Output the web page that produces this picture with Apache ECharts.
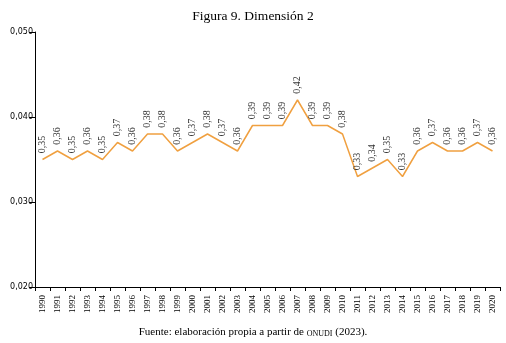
<!DOCTYPE html>
<html>
<head>
<meta charset="utf-8">
<script src="https://cdn.jsdelivr.net/npm/echarts@6/dist/echarts.min.js"></script>
<style>html,body{margin:0;padding:0;background:#fff}#c{width:506px;height:343px}</style>
</head>
<body>
<div id="c"></div>
<script>
const years = ['1990','1991','1992','1993','1994','1995','1996','1997','1998','1999','2000','2001','2002','2003','2004','2005','2006','2007','2008','2009','2010','2011','2012','2013','2014','2015','2016','2017','2018','2019','2020'];
const values = [0.035,0.036,0.035,0.036,0.035,0.037,0.036,0.038,0.038,0.036,0.037,0.038,0.037,0.036,0.039,0.039,0.039,0.042,0.039,0.039,0.038,0.033,0.034,0.035,0.033,0.036,0.037,0.036,0.036,0.037,0.036];
const pointLabels = ['0,35','0,36','0,35','0,36','0,35','0,37','0,36','0,38','0,38','0,36','0,37','0,38','0,37','0,36','0,39','0,39','0,39','0,42','0,39','0,39','0,38','0,33','0,34','0,35','0,33','0,36','0,37','0,36','0,36','0,37','0,36'];
const yTicks = {min:0.02, max:0.05, interval:0.01};

const chart = echarts.init(document.getElementById('c'), null, {renderer:'canvas'});
chart.setOption({
  animation:false,
  title:{text:'Figura 9. Dimensión 2', left:'center', top:4,
    textStyle:{fontFamily:'Liberation Serif', fontSize:13.5, fontWeight:'normal', color:'#000'}},
  grid:{left:35, right:6, top:32, bottom:56, containLabel:false},
  xAxis:{type:'category', data:years, boundaryGap:true,
    axisLine:{lineStyle:{color:'#000', width:1}},
    axisTick:{show:true, interval:0, length:4, lineStyle:{color:'#000'}},
    axisLabel:{interval:0, rotate:90, margin:8, fontFamily:'Liberation Serif', fontSize:9, color:'#000'}},
  yAxis:{type:'value', min:yTicks.min, max:yTicks.max, interval:yTicks.interval,
    axisLine:{show:true, lineStyle:{color:'#000', width:1}},
    axisTick:{show:true, length:6, lineStyle:{color:'#000'}},
    splitLine:{show:false},
    axisLabel:{margin:2, fontFamily:'DejaVu Sans', fontSize:8, color:'#000',
      formatter:v=>v.toFixed(3).replace('.',',')}},
  graphic:[{type:'text', left:'center', top:327,
    style:{text:'{a|Fuente: elaboración propia a partir de }{b|ONUDI}{a| (2023).}',
      rich:{a:{fontFamily:'Liberation Serif', fontSize:11, fill:'#000', lineHeight:13},
            b:{fontFamily:'Liberation Serif', fontSize:8, fill:'#000', lineHeight:13, padding:[3,0,0,0]}}}}],
  series:[{type:'line', data:values, showSymbol:true, symbol:'circle', symbolSize:0.5,
    itemStyle:{color:'rgba(240,160,64,0)'},
    lineStyle:{color:'#F0A040', width:1.5},
    label:{show:true, position:'top', distance:6, rotate:90, align:'left', verticalAlign:'middle',
      fontFamily:'Liberation Serif', fontSize:10, color:'#333',
      formatter:p=>pointLabels[p.dataIndex]}}]
});
</script>
</body>
</html>
